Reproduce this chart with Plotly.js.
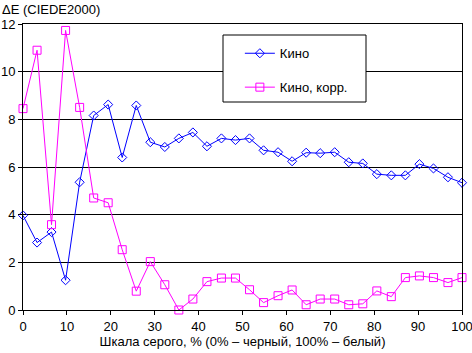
<!DOCTYPE html>
<html>
<head>
<meta charset="utf-8">
<script src="https://cdn.plot.ly/plotly-3.0.1.min.js"></script>
<style>html,body{margin:0;padding:0;background:#fff}#chart{width:472px;height:353px}</style>
</head>
<body>
<div id="chart"></div>
<script>
const grayLevels = [0, 3.2, 6.5, 9.7, 12.9, 16.1, 19.4, 22.6, 25.8, 29.0, 32.3, 35.5, 38.7, 41.9, 45.2, 48.4, 51.6, 54.8, 58.1, 61.3, 64.5, 67.7, 71.0, 74.2, 77.4, 80.6, 83.9, 87.1, 90.3, 93.5, 96.8, 100];
const kino = [3.97, 2.83, 3.27, 1.25, 5.36, 8.16, 8.62, 6.4, 8.58, 7.04, 6.84, 7.2, 7.45, 6.87, 7.2, 7.13, 7.2, 6.7, 6.62, 6.24, 6.6, 6.58, 6.62, 6.2, 6.15, 5.7, 5.65, 5.65, 6.12, 5.94, 5.57, 5.34];
const kinoCorr = [8.45, 10.9, 3.58, 11.73, 8.5, 4.7, 4.5, 2.53, 0.79, 2.03, 1.06, 0.0, 0.46, 1.19, 1.34, 1.34, 0.85, 0.31, 0.6, 0.84, 0.22, 0.46, 0.46, 0.22, 0.26, 0.8, 0.56, 1.36, 1.43, 1.36, 1.15, 1.36];
const seriesNames = ['Кино', 'Кино, корр.'];
const xTicks = [0, 10, 20, 30, 40, 50, 60, 70, 80, 90, 100];
const yTicks = [0, 2, 4, 6, 8, 10, 12];

const FONT = 'Liberation Sans, Arial, sans-serif';

const traces = [
  {
    x: grayLevels, y: kino, name: seriesNames[0], type: 'scatter', mode: 'lines+markers',
    line: {color: '#0000FF', width: 1},
    marker: {symbol: 'diamond-open', size: 7, color: '#0000FF', line: {width: 1, color: '#0000FF'}},
    cliponaxis: false, legendgroup: 'a'
  },
  {
    x: grayLevels, y: kinoCorr, name: seriesNames[1], type: 'scatter', mode: 'lines+markers',
    line: {color: '#FF00FF', width: 1},
    marker: {symbol: 'square-open', size: 8, color: '#FF00FF', line: {width: 1, color: '#FF00FF'}},
    cliponaxis: false, legendgroup: 'b'
  }
];

const layout = {
  width: 472, height: 353,
  margin: {l: 23, r: 10, t: 24, b: 43, pad: 0},
  paper_bgcolor: '#fff', plot_bgcolor: '#fff',
  font: {family: FONT, size: 13, color: '#000'},
  showlegend: true,
  legend: {
    x: 0.494, y: 0.95, xanchor: 'left', yanchor: 'top',
    bgcolor: 'rgba(0,0,0,0)', borderwidth: 0,
    font: {family: FONT, size: 13, color: '#000'},
    tracegroupgap: 14, traceorder: 'grouped'
  },
  xaxis: {
    range: [0, 100], tickvals: xTicks, ticktext: xTicks.map(String),
    showgrid: false, zeroline: false,
    showline: true, linecolor: '#000', linewidth: 1, mirror: true,
    ticks: 'outside', ticklen: 4, tickcolor: '#000',
    ticklabeloverflow: 'allow',
    tickfont: {family: FONT, size: 13, color: '#000'},
    title: {text: 'Шкала серого, % (0% – черный, 100% – белый)', font: {family: FONT, size: 13, color: '#000'}, standoff: 4}
  },
  yaxis: {
    range: [0, 12], tickvals: yTicks, ticktext: yTicks.map(String),
    showgrid: true, gridcolor: '#000', gridwidth: 1, zeroline: false,
    showline: true, linecolor: '#000', linewidth: 1, mirror: true,
    ticks: 'outside', ticklen: 4, tickcolor: '#000',
    ticklabeloverflow: 'allow',
    tickfont: {family: FONT, size: 13, color: '#000'}
  },
  shapes: [
    {type: 'rect', xref: 'paper', yref: 'paper',
     x0: (223 - 23) / 439, x1: (366 - 23) / 439,
     y0: (310 - 102) / 286, y1: (310 - 35) / 286,
     fillcolor: '#fff', line: {color: '#000', width: 1}, layer: 'above'}
  ],
  annotations: [
    {text: 'ΔE (CIEDE2000)', xref: 'paper', yref: 'paper', x: -23 / 439, y: 1 + 14 / 286,
     xanchor: 'left', yanchor: 'middle', showarrow: false, font: {family: FONT, size: 13, color: '#000'}}
  ]
};

Plotly.newPlot('chart', traces, layout, {staticPlot: true, displayModeBar: false});
</script>
</body>
</html>
